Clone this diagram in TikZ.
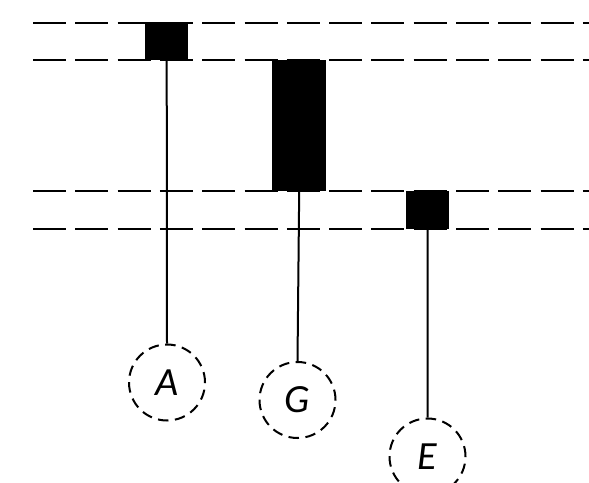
\documentclass[tikz,border=0pt]{standalone}
\usepackage{fontspec}
\setmainfont{Carlito}

\begin{document}
\begin{tikzpicture}[x=1pt,y=-1pt,
    level/.style={line width=1.9pt,dash pattern=on 33pt off 9.3pt},
    bar/.style={fill=black,draw=none,inner sep=0pt,anchor=north west},
    tone/.style={circle,draw,line width=2pt,dash pattern=on 10.5pt off 6.5pt,
      minimum size=76pt,inner sep=0pt,font=\fontsize{40}{42}\selectfont\itshape},
    stem/.style={line width=2pt}]
            \useasboundingbox (0,0) rectangle (589,482);
            \clip (0,0) rectangle (589,482);
            \foreach \yy in {23,60,191,229}
                \draw[level] (33,\yy) -- (600,\yy);
            \node[bar, minimum width=43pt, minimum height=38pt] (ba) at (145,22) {};
            \node[bar, minimum width=54pt, minimum height=131pt] (bg) at (272,60) {};
            \node[bar, minimum width=43pt, minimum height=38pt] (be) at (406,191) {};
            \node[tone] (a) at (167,382.5) {A};
            \node[tone] (g) at (297.5,400) {G};
            \node[tone] (e) at (427.5,456.5) {E};
            \draw[stem] (ba.south) -- (a.north);
            \draw[stem] (bg.south) -- (g.north);
            \draw[stem] (be.south) -- (e.north);
        \end{tikzpicture}
\end{document}
